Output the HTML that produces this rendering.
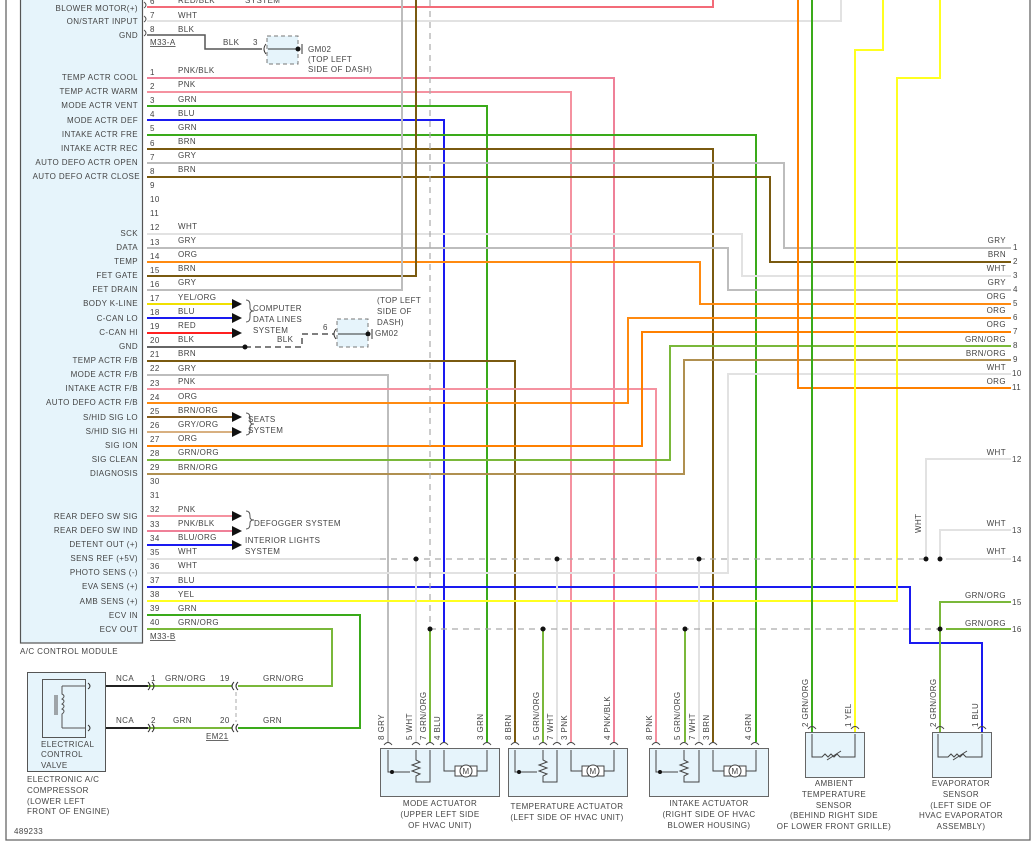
<!DOCTYPE html>
<html><head><meta charset="utf-8"><style>
html,body{margin:0;padding:0;background:#fff}
svg{display:block}
text{font-family:"Liberation Sans",sans-serif;font-size:8px;fill:#444;letter-spacing:.4px}
.w{fill:none;stroke-width:2}
.t{fill:#333}
</style></head><body>
<svg width="1034" height="844" viewBox="0 0 1034 844" xmlns="http://www.w3.org/2000/svg">
<rect x="0" y="0" width="1034" height="844" fill="#fff"/>
<path d="M6,0V840H1030V0" fill="none" stroke="#666" stroke-width="1.3"/>
<!-- module -->
<rect x="20.5" y="-2" width="122" height="645" fill="#e6f4fb" stroke="#555" stroke-width="1.2"/>
<text x="20" y="654">A/C CONTROL MODULE</text>
<g text-anchor="end">
<text x="138" y="11">BLOWER MOTOR(+)</text>
<text x="138" y="24">ON/START INPUT</text>
<text x="138" y="38">GND</text>
<text x="138" y="80">TEMP ACTR COOL</text>
<text x="138" y="94">TEMP ACTR WARM</text>
<text x="138" y="108">MODE ACTR VENT</text>
<text x="138" y="123">MODE ACTR DEF</text>
<text x="138" y="137">INTAKE ACTR FRE</text>
<text x="138" y="151">INTAKE ACTR REC</text>
<text x="138" y="165">AUTO DEFO ACTR OPEN</text>
<text x="140" y="179">AUTO DEFO ACTR CLOSE</text>
<text x="138" y="236">SCK</text>
<text x="138" y="250">DATA</text>
<text x="138" y="264">TEMP</text>
<text x="138" y="278">FET GATE</text>
<text x="138" y="292">FET DRAIN</text>
<text x="138" y="306">BODY K-LINE</text>
<text x="138" y="321">C-CAN LO</text>
<text x="138" y="335">C-CAN HI</text>
<text x="138" y="349">GND</text>
<text x="138" y="363">TEMP ACTR F/B</text>
<text x="138" y="377">MODE ACTR F/B</text>
<text x="138" y="391">INTAKE ACTR F/B</text>
<text x="138" y="405">AUTO DEFO ACTR F/B</text>
<text x="138" y="420">S/HID SIG LO</text>
<text x="138" y="434">S/HID SIG HI</text>
<text x="138" y="448">SIG ION</text>
<text x="138" y="462">SIG CLEAN</text>
<text x="138" y="476">DIAGNOSIS</text>
<text x="138" y="519">REAR DEFO SW SIG</text>
<text x="138" y="533">REAR DEFO SW IND</text>
<text x="138" y="547">DETENT OUT (+)</text>
<text x="138" y="561">SENS REF (+5V)</text>
<text x="138" y="575">PHOTO SENS (-)</text>
<text x="138" y="589">EVA SENS (+)</text>
<text x="138" y="604">AMB SENS (+)</text>
<text x="138" y="618">ECV IN</text>
<text x="138" y="632">ECV OUT</text>
</g>
<!-- pin numbers and colors -->
<g class="t">
<text x="150" y="4">6</text><text x="178" y="3">RED/BLK</text><text x="245" y="3">SYSTEM</text>
<text x="150" y="18">7</text><text x="178" y="18">WHT</text>
<text x="150" y="32">8</text><text x="178" y="32">BLK</text>
<text x="150" y="75">1</text><text x="178" y="73">PNK/BLK</text>
<text x="150" y="89">2</text><text x="178" y="87">PNK</text>
<text x="150" y="103">3</text><text x="178" y="102">GRN</text>
<text x="150" y="117">4</text><text x="178" y="116">BLU</text>
<text x="150" y="131">5</text><text x="178" y="130">GRN</text>
<text x="150" y="146">6</text><text x="178" y="144">BRN</text>
<text x="150" y="160">7</text><text x="178" y="158">GRY</text>
<text x="150" y="174">8</text><text x="178" y="172">BRN</text>
<text x="150" y="188">9</text><text x="150" y="202">10</text><text x="150" y="216">11</text>
<text x="150" y="230">12</text><text x="178" y="229">WHT</text>
<text x="150" y="245">13</text><text x="178" y="243">GRY</text>
<text x="150" y="259">14</text><text x="178" y="257">ORG</text>
<text x="150" y="273">15</text><text x="178" y="271">BRN</text>
<text x="150" y="287">16</text><text x="178" y="285">GRY</text>
<text x="150" y="301">17</text><text x="178" y="300">YEL/ORG</text>
<text x="150" y="315">18</text><text x="178" y="314">BLU</text>
<text x="150" y="329">19</text><text x="178" y="328">RED</text>
<text x="150" y="343">20</text><text x="178" y="342">BLK</text>
<text x="150" y="357">21</text><text x="178" y="356">BRN</text>
<text x="150" y="371">22</text><text x="178" y="371">GRY</text>
<text x="150" y="386">23</text><text x="178" y="384">PNK</text>
<text x="150" y="400">24</text><text x="178" y="399">ORG</text>
<text x="150" y="414">25</text><text x="178" y="413">BRN/ORG</text>
<text x="150" y="428">26</text><text x="178" y="427">GRY/ORG</text>
<text x="150" y="442">27</text><text x="178" y="441">ORG</text>
<text x="150" y="456">28</text><text x="178" y="455">GRN/ORG</text>
<text x="150" y="470">29</text><text x="178" y="470">BRN/ORG</text>
<text x="150" y="484">30</text><text x="150" y="498">31</text>
<text x="150" y="512">32</text><text x="178" y="512">PNK</text>
<text x="150" y="527">33</text><text x="178" y="526">PNK/BLK</text>
<text x="150" y="541">34</text><text x="178" y="540">BLU/ORG</text>
<text x="150" y="555">35</text><text x="178" y="554">WHT</text>
<text x="150" y="569">36</text><text x="178" y="568">WHT</text>
<text x="150" y="583">37</text><text x="178" y="583">BLU</text>
<text x="150" y="597">38</text><text x="178" y="597">YEL</text>
<text x="150" y="611">39</text><text x="178" y="611">GRN</text>
<text x="150" y="625">40</text><text x="178" y="625">GRN/ORG</text>
</g>
<g fill="none" stroke="#555" stroke-width="1">
<path d="M144,2q4,3 0,6M144,16q4,3 0,6M144,30q4,3 0,6"/>
</g>
<text x="150" y="45" style="text-decoration:underline">M33-A</text>
<text x="150" y="639" style="text-decoration:underline">M33-B</text>
<!-- wires -->
<g class="w">
<path stroke="#f36b78" d="M147,7H713V0"/>
<path stroke="#e2e2e2" d="M147,21H841V0"/>
<path stroke="#555" stroke-width="1.5" d="M147,35H205V49H262"/>
<path stroke="#ef8098" d="M147,78H614V742"/>
<path stroke="#f592a0" d="M147,92H571V742"/>
<path stroke="#3aaa1a" d="M147,106H487V742"/>
<path stroke="#1a1af0" d="M147,120H444V742"/>
<path stroke="#3aaa1a" d="M147,135H756V742"/>
<path stroke="#7a5a10" d="M147,149H713V742"/>
<path stroke="#bdbdbd" d="M147,163H784V248H1011"/>
<path stroke="#7a5a10" d="M147,177H770V262H1011"/>
<path stroke="#e2e2e2" d="M147,234H742V276H1011"/>
<path stroke="#bdbdbd" d="M147,248H728V290H1011"/>
<path stroke="#ff8a10" d="M147,262H700V304H1011"/>
<path stroke="#7a5a10" d="M147,276H416V0"/>
<path stroke="#bdbdbd" d="M147,290H402V0"/>
<path stroke="#f0e000" d="M147,304H232"/>
<path stroke="#1a1af0" d="M147,318H232"/>
<path stroke="#ff2020" d="M147,333H232"/>
<path stroke="#7a5a10" d="M147,361H515V742"/>
<path stroke="#bdbdbd" d="M147,375H388V742"/>
<path stroke="#f592a0" d="M147,389H656V742"/>
<path stroke="#ff8a10" d="M147,403H628V318H1011"/>
<path stroke="#8a6020" d="M147,417H232"/>
<path stroke="#d8b080" d="M147,432H232"/>
<path stroke="#ff8000" d="M147,446H642V332H1011"/>
<path stroke="#7ab83a" d="M147,460H670V346H1011"/>
<path stroke="#b09050" d="M147,474H684V360H1011"/>
<path stroke="#f592a0" d="M147,516H232"/>
<path stroke="#ef8098" d="M147,531H232"/>
<path stroke="#1a1af0" d="M147,545H232"/>
<path stroke="#e2e2e2" d="M147,559H380"/>
<path stroke="#e2e2e2" d="M147,573H728V374H1011"/>
<path stroke="#1a1af0" d="M147,587H910V643H982V742"/>
<path stroke="#ffff20" d="M147,601H897V78H940V0"/>
<path stroke="#3aaa1a" d="M147,615H360V728H238"/>
<path stroke="#7ab83a" d="M147,629H332V686H238"/>
<path stroke="#ff8000" d="M798,0V388H1011"/>
<path stroke="#3aaa1a" d="M812,0V742"/>
<path stroke="#ffff20" d="M883,0V50H855V742"/>
<path stroke="#e2e2e2" d="M1011,459H926V559M1011,530H940V559M946,559H1011"/>
<path stroke="#7ab83a" d="M1011,602H940V742M946,629H1011"/>
<path stroke="#e2e2e2" d="M416,559V742M557,559V742M699,559V742"/>
<path stroke="#7ab83a" d="M430,629V742M543,629V742M685,629V742"/>
<path stroke="#7ab83a" d="M148,686H232M148,728H232"/>
<path stroke="#222" d="M105,686H148M105,728H148"/>
</g>
<g fill="none" stroke="#aaa" stroke-width="1.2" stroke-dasharray="6,5">
<path d="M380,559H926M430,629H940M430,0V629"/>
</g>
<path d="M245,347H302V334H334" fill="none" stroke="#555" stroke-width="1.5" stroke-dasharray="6,4"/>
<path d="M147,347H245" stroke="#666" stroke-width="2"/>
<g fill="#111">
<circle cx="245" cy="347" r="2.5"/>
<circle cx="416" cy="559" r="2.5"/><circle cx="557" cy="559" r="2.5"/><circle cx="699" cy="559" r="2.5"/>
<circle cx="926" cy="559" r="2.5"/><circle cx="940" cy="559" r="2.5"/>
<circle cx="430" cy="629" r="2.5"/><circle cx="543" cy="629" r="2.5"/><circle cx="685" cy="629" r="2.5"/><circle cx="940" cy="629" r="2.5"/>
<path d="M232,299l10,5l-10,5zM232,313l10,5l-10,5zM232,328l10,5l-10,5zM232,412l10,5l-10,5zM232,427l10,5l-10,5zM232,511l10,5l-10,5zM232,526l10,5l-10,5zM232,540l10,5l-10,5z"/>
</g>
<g fill="none" stroke="#555"><path d="M246,300q4,0 4,5v3q0,3 4,3q-4,0-4,3v3q0,5-4,5M246,413q4,0 4,5v3q0,3 4,3q-4,0-4,3v3q0,5-4,5M246,511q4,0 4,5v1q0,3 4,3q-4,0-4,3v1q0,5-4,5"/></g>
<g class="t">
<text x="253" y="311">COMPUTER</text><text x="253" y="322">DATA LINES</text><text x="253" y="333">SYSTEM</text>
<text x="248" y="422">SEATS</text><text x="248" y="433">SYSTEM</text>
<text x="254" y="526">DEFOGGER SYSTEM</text>
<text x="245" y="543">INTERIOR LIGHTS</text><text x="245" y="554">SYSTEM</text>
<text x="277" y="342">BLK</text>
<text x="223" y="45">BLK</text><text x="253" y="45">3</text>
<text x="323" y="330">6</text>
<text x="308" y="52">GM02</text><text x="308" y="62">(TOP LEFT</text><text x="308" y="72">SIDE OF DASH)</text>
<text x="377" y="303">(TOP LEFT</text><text x="377" y="314">SIDE OF</text><text x="377" y="325">DASH)</text><text x="375" y="336">GM02</text>
</g>
<!-- ground connectors -->
<rect x="267" y="36" width="31" height="28" fill="#e6f4fb" stroke="#777" stroke-dasharray="4,3"/>
<rect x="337" y="319" width="31" height="28" fill="#e6f4fb" stroke="#777" stroke-dasharray="4,3"/>
<g stroke="#333" fill="none"><path d="M268,49H298M302,44v10M338,334H368M372,329v10M266,44q-4,5 0,10M336,329q-4,5 0,10"/></g>
<circle cx="298" cy="49" r="2.5" fill="#111"/><circle cx="368" cy="334" r="2.5" fill="#111"/>
<!-- right pin labels -->
<g class="t" text-anchor="end">
<text x="1006" y="243">GRY</text><text x="1006" y="257">BRN</text><text x="1006" y="271">WHT</text><text x="1006" y="285">GRY</text>
<text x="1006" y="299">ORG</text><text x="1006" y="313">ORG</text><text x="1006" y="327">ORG</text><text x="1006" y="342">GRN/ORG</text>
<text x="1006" y="356">BRN/ORG</text><text x="1006" y="370">WHT</text><text x="1006" y="384">ORG</text>
<text x="1006" y="455">WHT</text><text x="1006" y="526">WHT</text><text x="1006" y="554">WHT</text>
<text x="1006" y="598">GRN/ORG</text><text x="1006" y="626">GRN/ORG</text>
</g>
<g class="t">
<text x="1013" y="250">1</text><text x="1013" y="264">2</text><text x="1013" y="278">3</text><text x="1013" y="292">4</text>
<text x="1013" y="306">5</text><text x="1013" y="320">6</text><text x="1013" y="334">7</text><text x="1013" y="348">8</text>
<text x="1013" y="362">9</text><text x="1012" y="376">10</text><text x="1012" y="390">11</text>
<text x="1012" y="462">12</text><text x="1012" y="533">13</text><text x="1012" y="562">14</text>
<text x="1012" y="605">15</text><text x="1012" y="632">16</text>
<text x="0" y="0" transform="translate(921,533) rotate(-90)">WHT</text>
</g>
<!-- compressor -->
<rect x="27.5" y="672.5" width="78" height="99" fill="#e6f4fb" stroke="#555"/>
<rect x="42.5" y="679.5" width="43" height="58" fill="none" stroke="#555"/>
<path d="M62,686H85M62,728H85M62,686v8q4,2 0,5q4,2 0,5q4,2 0,5q4,2 0,5v14M55,695v20M57,695v20" fill="none" stroke="#555"/>
<path d="M88,683q4,3 0,6M88,725q4,3 0,6M148,682q4,4 0,8M152,682q4,4 0,8M148,724q4,4 0,8M152,724q4,4 0,8M238,682q-4,4 0,8M234,682q-4,4 0,8M238,724q-4,4 0,8M234,724q-4,4 0,8" fill="none" stroke="#333"/>
<path d="M236,692V722" stroke="#aaa" stroke-dasharray="4,3"/>
<g class="t">
<text x="41" y="747">ELECTRICAL</text><text x="41" y="757">CONTROL</text><text x="41" y="768">VALVE</text>
<text x="27" y="782">ELECTRONIC A/C</text><text x="27" y="793">COMPRESSOR</text><text x="27" y="804">(LOWER LEFT</text><text x="27" y="814">FRONT OF ENGINE)</text>
<text x="14" y="834">489233</text>
<text x="116" y="681">NCA</text><text x="116" y="723">NCA</text>
<text x="151" y="681">1</text><text x="165" y="681">GRN/ORG</text><text x="220" y="681">19</text><text x="263" y="681">GRN/ORG</text>
<text x="151" y="723">2</text><text x="173" y="723">GRN</text><text x="220" y="723">20</text><text x="263" y="723">GRN</text>
<text x="206" y="739" style="text-decoration:underline">EM21</text>
</g>
<!-- actuators -->
<g fill="#e6f4fb" stroke="#666">
<rect x="380.5" y="748.5" width="119" height="48"/>
<rect x="508.5" y="748.5" width="119" height="48"/>
<rect x="649.5" y="748.5" width="119" height="48"/>
<rect x="805.5" y="732.5" width="59" height="45"/>
<rect x="932.5" y="732.5" width="59" height="45"/>
</g>
<g fill="none" stroke="#444">
<path d="M384,745q4,-5 8,0M412,745q4,-5 8,0M426,745q4,-5 8,0M440,745q4,-5 8,0M483,745q4,-5 8,0"/>
<path d="M511,745q4,-5 8,0M539,745q4,-5 8,0M553,745q4,-5 8,0M567,745q4,-5 8,0M610,745q4,-5 8,0"/>
<path d="M652,745q4,-5 8,0M680,745q4,-5 8,0M695,745q4,-5 8,0M709,745q4,-5 8,0M751,745q4,-5 8,0"/>
<path d="M808,729q4,-5 8,0M851,729q4,-5 8,0M936,729q4,-5 8,0M978,729q4,-5 8,0"/>
<path d="M388,750V772H410M416,750V760l4,2-8,3 8,3-8,3 8,3-4,2v6H430V750M444,750V771H455M477,771H487V750"/>
<path d="M515,750V772H537M543,750V760l4,2-8,3 8,3-8,3 8,3-4,2v6H557V750M571,750V771H582M604,771H614V750"/>
<path d="M656,750V772H678M684,750V760l4,2-8,3 8,3-8,3 8,3-4,2v6H699V750M713,750V771H724M746,771H756V750"/>
<path d="M812,734V757H822l3,-3 3,3 3,-3 3,3 3,-3 3,3H855V734M938,734V757H948l3,-3 3,3 3,-3 3,3 3,-3 3,3H982V734"/>
<path d="M827,760l14,-9M953,760l14,-9"/>
</g>
<g fill="#fff" stroke="#444">
<rect x="455" y="766" width="22" height="10"/><circle cx="466" cy="771" r="6"/>
<rect x="582" y="766" width="22" height="10"/><circle cx="593" cy="771" r="6"/>
<rect x="724" y="766" width="22" height="10"/><circle cx="735" cy="771" r="6"/>
</g>
<g font-size="7" text-anchor="middle"><text x="466" y="774" style="font-size:8px" fill="#600">M</text><text x="593" y="774" style="font-size:8px" fill="#600">M</text><text x="735" y="774" style="font-size:8px" fill="#600">M</text></g>
<g fill="#111"><circle cx="392" cy="772" r="2"/><circle cx="519" cy="772" r="2"/><circle cx="660" cy="772" r="2"/></g>
<g class="t">
<text transform="translate(384,740) rotate(-90)">8  GRY</text>
<text transform="translate(412,740) rotate(-90)">5  WHT</text>
<text transform="translate(426,740) rotate(-90)">7  GRN/ORG</text>
<text transform="translate(440,740) rotate(-90)">4  BLU</text>
<text transform="translate(483,740) rotate(-90)">3  GRN</text>
<text transform="translate(511,740) rotate(-90)">8  BRN</text>
<text transform="translate(539,740) rotate(-90)">5  GRN/ORG</text>
<text transform="translate(553,740) rotate(-90)">7  WHT</text>
<text transform="translate(567,740) rotate(-90)">3  PNK</text>
<text transform="translate(610,740) rotate(-90)">4  PNK/BLK</text>
<text transform="translate(652,740) rotate(-90)">8  PNK</text>
<text transform="translate(680,740) rotate(-90)">5  GRN/ORG</text>
<text transform="translate(695,740) rotate(-90)">7  WHT</text>
<text transform="translate(709,740) rotate(-90)">3  BRN</text>
<text transform="translate(751,740) rotate(-90)">4  GRN</text>
<text transform="translate(808,727) rotate(-90)">2  GRN/ORG</text>
<text transform="translate(851,727) rotate(-90)">1  YEL</text>
<text transform="translate(936,727) rotate(-90)">2  GRN/ORG</text>
<text transform="translate(978,727) rotate(-90)">1  BLU</text>
</g>
<g class="t" text-anchor="middle">
<text x="440" y="806">MODE ACTUATOR</text><text x="440" y="817">(UPPER LEFT SIDE</text><text x="440" y="828">OF HVAC UNIT)</text>
<text x="567" y="809">TEMPERATURE ACTUATOR</text><text x="567" y="820">(LEFT SIDE OF HVAC UNIT)</text>
<text x="709" y="806">INTAKE ACTUATOR</text><text x="709" y="817">(RIGHT SIDE OF HVAC</text><text x="709" y="828">BLOWER HOUSING)</text>
<text x="834" y="786">AMBIENT</text><text x="834" y="797">TEMPERATURE</text><text x="834" y="808">SENSOR</text><text x="834" y="818">(BEHIND RIGHT SIDE</text><text x="834" y="829">OF LOWER FRONT GRILLE)</text>
<text x="961" y="786">EVAPORATOR</text><text x="961" y="797">SENSOR</text><text x="961" y="808">(LEFT SIDE OF</text><text x="961" y="818">HVAC EVAPORATOR</text><text x="961" y="829">ASSEMBLY)</text>
</g>
</svg>
</body></html>
